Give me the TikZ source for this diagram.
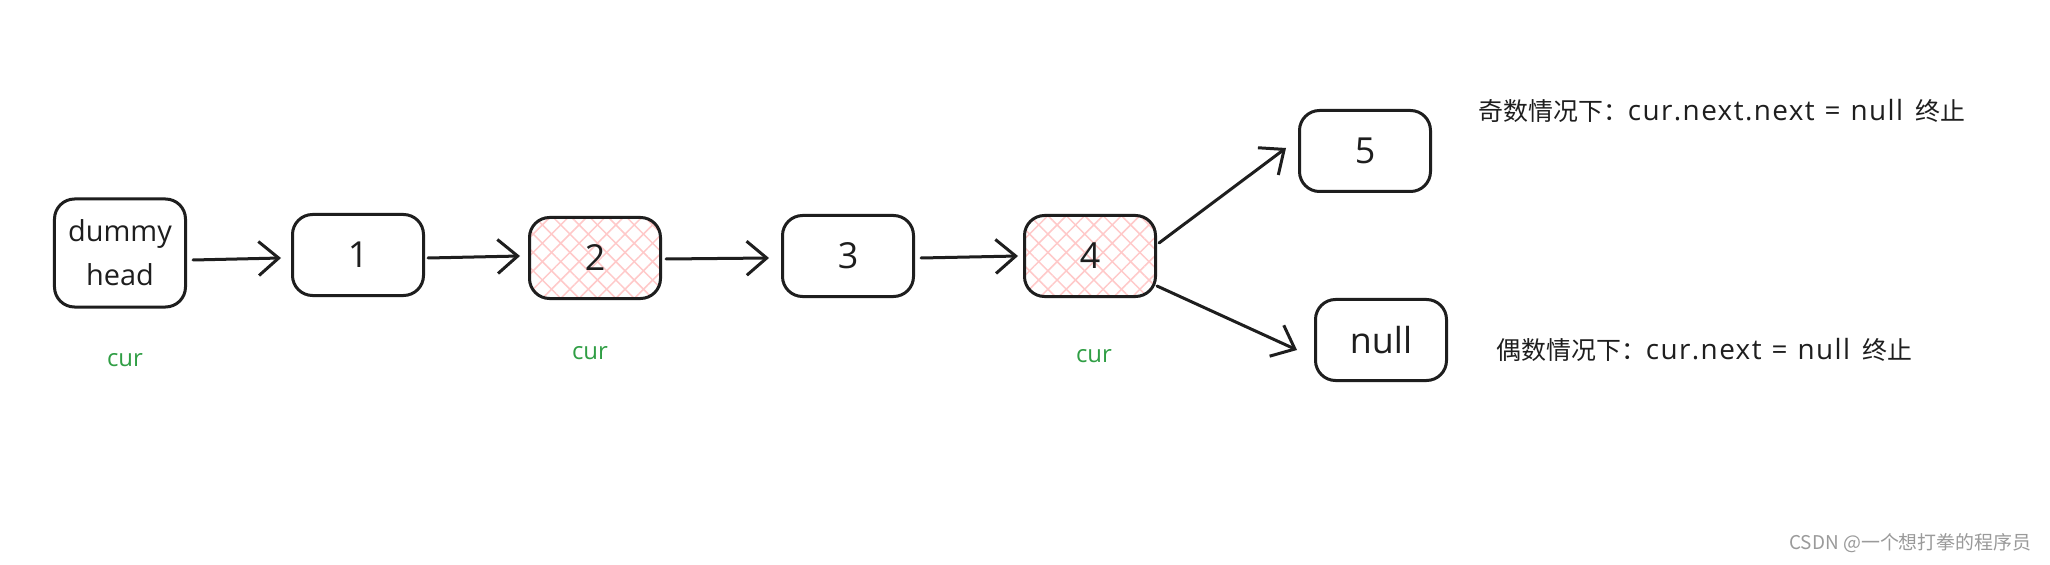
\documentclass[tikz,border=0pt]{standalone}
\usepackage{fontspec}
\setmainfont{Open Sans}
\newfontfamily\cjk{Noto Sans CJK SC}
\newfontfamily\latn[LetterSpace=5]{Open Sans}
\usetikzlibrary{arrows.meta,patterns.meta,calc}
\definecolor{ink}{HTML}{1E1E1E}
\definecolor{curgreen}{HTML}{2F9E44}
\definecolor{hatch}{HTML}{FFC9C9}
\definecolor{mark}{HTML}{9A9A9A}
\newcommand\lt[1]{{\latn\fontsize{28}{30}\selectfont #1}}
\begin{document}
\begin{tikzpicture}[x=1bp,y=-1bp,
  box/.style={draw=ink,line width=3bp,rounded corners=20bp,minimum width=131bp,
    minimum height=81bp,inner sep=0pt,align=center,text=ink,
    font=\fontsize{36}{44}\selectfont},
  hot/.style={box,
    preaction={pattern={Lines[angle=45,distance=13bp,line width=1.5bp]},pattern color=hatch},
    preaction={pattern={Lines[angle=-45,distance=13bp,line width=1.5bp]},pattern color=hatch}},
  link/.style={draw=ink,line width=3bp,line cap=round,line join=round,
    -{Straight Barb[length=20bp,width=34bp,line width=3bp]}},
  curlbl/.style={text=curgreen,font=\fontsize{24}{28}\selectfont},
  note/.style={anchor=west,text=ink,font=\cjk\fontsize{25}{30}\selectfont},
]
\useasboundingbox (0,0) rectangle (2050,565);
\fill[white] (0,0) rectangle (2050,565);

\node[box,minimum height=108bp,font=\fontsize{29}{44}\selectfont] (d) at (120,253) {dummy\\head};
\node[box] (n1) at (358,255) {1};
\node[hot] (n2) at (595,258) {2};
\node[box] (n3) at (848,256) {3};
\node[hot] (n4) at (1090,256) {4};
\node[box] (n5) at (1365,151) {5};
\node[box] (nl) at (1381,340) {null};

\node[curlbl] (c0) at (125,360) {cur};
\node[curlbl] (c2) at (590,353) {cur};
\node[curlbl] (c4) at (1094,356) {cur};

\draw[link] ($(d.east)+(6,7)$) -- ($(n1.west)+(-10,3)$);
\draw[link] ($(n1.east)+(3,3)$) -- ($(n2.west)+(-8,-2)$);
\draw[link] ($(n2.east)+(4,1)$) -- ($(n3.west)+(-12,2)$);
\draw[link] ($(n3.east)+(6,2)$) -- ($(n4.west)+(-5,0)$);
\draw[link] ($(n4.east)+(2,-13)$) -- ($(n5.west)+(-12,-3)$);
\draw[link] ($(n4.east)+(0,30)$) -- ($(nl.west)+(-17,10)$);

\node[note] (t1) at (1475,111) {奇数情况下：\lt{cur.next.next\hspace{10bp}=\hspace{10bp}null}\hspace{12bp}终止};
\node[note] (t2) at (1493,350) {偶数情况下：\lt{cur.next\hspace{10bp}=\hspace{10bp}null}\hspace{12bp}终止};

\node[anchor=east,text=mark,font=\cjk\fontsize{19}{22}\selectfont] (wm) at (2035,543) {CSDN @一个想打拳的程序员};
\end{tikzpicture}
\end{document}
